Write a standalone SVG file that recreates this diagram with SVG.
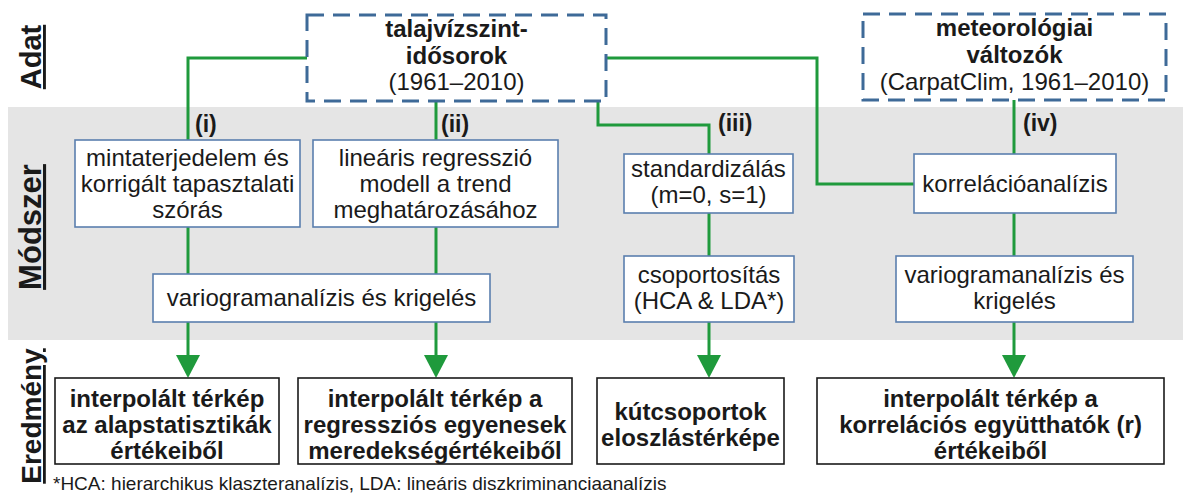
<svg xmlns="http://www.w3.org/2000/svg" width="1183" height="494" viewBox="0 0 1183 494">
<style>
text{font-family:"Liberation Sans",Arial,sans-serif;fill:#1a1a1a}
.t{font-size:24px;text-anchor:middle}
.b{font-size:24px;font-weight:bold;text-anchor:middle}
.lab{font-size:23px;font-weight:bold}
.side{font-weight:bold;text-anchor:middle;text-decoration:underline}
.data{fill:#fff;stroke:#3e6a98;stroke-width:3;stroke-dasharray:17 9}
.meth{fill:#fff;stroke:#5b7fae;stroke-width:1.6}
.res{fill:#fff;stroke:#1a1a1a;stroke-width:1.6}
.con{fill:none;stroke:#1f9a3c;stroke-width:3}
.arr{fill:#1f9a3c}
</style>
<defs>
<marker id="ah" markerUnits="userSpaceOnUse" markerWidth="24" markerHeight="24" viewBox="0 0 24 24" refX="0" refY="12" orient="auto">
<path class="arr" d="M0,0 L23,12 L0,24 z"/>
</marker>
</defs>
<rect x="8" y="107" width="1175" height="233" fill="#e5e5e5"/>
<g id="side-labels">
<text class="side" font-size="29" transform="translate(41,57) rotate(-90)">Adat</text>
<text class="side" font-size="31" transform="translate(41,227) rotate(-90)">Módszer</text>
<text class="side" font-size="28" transform="translate(41,416) rotate(-90)">Eredmény</text>
</g>
<g id="connectors">
<path class="con" d="M307,58 H188 V140"/>
<path class="con" d="M188,227 V274"/>
<path class="con" d="M188,322 V355" marker-end="url(#ah)"/>
<path class="con" d="M436,101 V140"/>
<path class="con" d="M436,227 V274"/>
<path class="con" d="M436,322 V355" marker-end="url(#ah)"/>
<path class="con" d="M598,101 V125 H709 V154"/>
<path class="con" d="M709,213 V256"/>
<path class="con" d="M709,322 V355" marker-end="url(#ah)"/>
<path class="con" d="M606,58 H817 V184 H914"/>
<path class="con" d="M1014,100 V154"/>
<path class="con" d="M1014,213 V256"/>
<path class="con" d="M1014,322 V355" marker-end="url(#ah)"/>
</g>
<g id="labels">
<text class="lab" x="195" y="132">(i)</text>
<text class="lab" x="441" y="132">(ii)</text>
<text class="lab" x="718" y="131">(iii)</text>
<text class="lab" x="1023" y="131">(iv)</text>
</g>
<g id="data-groundwater">
<rect class="data" x="307" y="15" width="299" height="86"/>
<text class="b" x="456.5" y="37">talajvízszint-</text>
<text class="b" x="456.5" y="64">idősorok</text>
<text class="t" x="456.5" y="90">(1961–2010)</text>
</g>
<g id="data-meteo">
<rect class="data" x="863" y="14" width="303" height="86"/>
<text class="b" x="1014.5" y="36">meteorológiai</text>
<text class="b" x="1014.5" y="63">változók</text>
<text class="t" x="1014.5" y="90">(CarpatClim, 1961–2010)</text>
</g>
<g id="m-i">
<rect class="meth" x="75" y="140" width="225" height="87"/>
<text class="t" x="187.5" y="166">mintaterjedelem és</text>
<text class="t" x="187.5" y="192">korrigált tapasztalati</text>
<text class="t" x="187.5" y="218">szórás</text>
</g>
<g id="m-ii">
<rect class="meth" x="313" y="140" width="245" height="87"/>
<text class="t" x="435.5" y="166">lineáris regresszió</text>
<text class="t" x="435.5" y="192">modell a trend</text>
<text class="t" x="435.5" y="218">meghatározásához</text>
</g>
<g id="m-vario1">
<rect class="meth" x="153" y="274" width="337" height="48"/>
<text class="t" x="321.5" y="306">variogramanalízis és krigelés</text>
</g>
<g id="m-std">
<rect class="meth" x="624" y="154" width="169" height="59"/>
<text class="t" x="708.5" y="177">standardizálás</text>
<text class="t" x="708.5" y="203">(m=0, s=1)</text>
</g>
<g id="m-group">
<rect class="meth" x="624" y="256" width="170" height="66"/>
<text class="t" x="709" y="283">csoportosítás</text>
<text class="t" x="709" y="309">(HCA &amp; LDA*)</text>
</g>
<g id="m-corr">
<rect class="meth" x="914" y="154" width="202" height="59"/>
<text class="t" x="1015" y="192">korrelációanalízis</text>
</g>
<g id="m-vario2">
<rect class="meth" x="896" y="256" width="237" height="66"/>
<text class="t" x="1014.5" y="283">variogramanalízis és</text>
<text class="t" x="1014.5" y="309">krigelés</text>
</g>
<g id="r-1">
<rect class="res" x="55" y="378" width="224" height="86"/>
<text class="b" x="167" y="407">interpolált térkép</text>
<text class="b" x="167" y="433">az alapstatisztikák</text>
<text class="b" x="167" y="459">értékeiből</text>
</g>
<g id="r-2">
<rect class="res" x="298" y="378" width="274" height="86"/>
<text class="b" x="435" y="407">interpolált térkép a</text>
<text class="b" x="435" y="433">regressziós egyenesek</text>
<text class="b" x="435" y="459">meredekségértékeiből</text>
</g>
<g id="r-3">
<rect class="res" x="597" y="378" width="187" height="86"/>
<text class="b" x="690.5" y="420">kútcsoportok</text>
<text class="b" x="690.5" y="446">eloszlástérképe</text>
</g>
<g id="r-4">
<rect class="res" x="817" y="378" width="347" height="86"/>
<text class="b" x="990.5" y="407">interpolált térkép a</text>
<text class="b" x="990.5" y="433">korrelációs együtthatók (r)</text>
<text class="b" x="990.5" y="459">értékeiből</text>
</g>
<text x="53" y="490" font-size="19">*HCA: hierarchikus klaszteranalízis, LDA: lineáris diszkriminanciaanalízis</text>
</svg>
